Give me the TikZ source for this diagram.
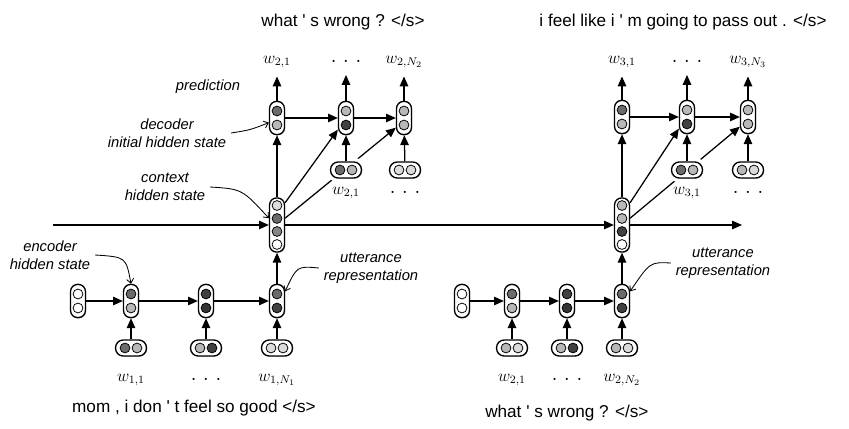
\documentclass[tikz,border=0pt]{standalone}
\usepackage[no-math]{fontspec}
\setmainfont{Liberation Sans}
\usepackage{tikz}
\usetikzlibrary{arrows.meta,shadows,calc}
\definecolor{dkgray}{gray}{0.25}
\definecolor{mdgray}{gray}{0.42}
\definecolor{ltgray}{gray}{0.72}
\definecolor{pale}{gray}{0.86}
\tikzset{
    unit/.style={
    circle,draw=black,line width=0.55pt,minimum size=7pt,inner sep=0pt
    },
    vpill/.style={
    rectangle,rounded corners=5pt,draw=black,fill=white,line width=0.95pt,
    minimum width=10.6pt,minimum height=23.6pt,inner sep=0pt,
    drop shadow={shadow xshift=0.6pt,shadow yshift=-0.6pt,opacity=0.3}
    },
    hpill/.style={
    rectangle,rounded corners=5.5pt,draw=black,fill=white,line width=0.95pt,
    minimum width=22pt,minimum height=11.4pt,inner sep=0pt,
    drop shadow={shadow xshift=0.6pt,shadow yshift=-0.6pt,opacity=0.3}
    },
    cpill/.style={
    rectangle,rounded corners=5pt,draw=black,fill=white,line width=0.95pt,
    minimum width=10.6pt,minimum height=38.5pt,inner sep=0pt,
    drop shadow={shadow xshift=0.6pt,shadow yshift=-0.6pt,opacity=0.3}
    },
    halo/.style={
    preaction={draw=white,line width=6pt}
    },
    arr/.style={
    -{Triangle[length=7pt,width=6pt]},line width=0.9pt
    },
    note/.style={
    -{Straight Barb[length=3pt,width=5pt]},line width=0.6pt
    },
    lbl/.style={
    font=\fontsize{10.5}{12.8}\selectfont\itshape,align=center
    },
    sent/.style={
    font=\fontsize{12.2}{14}\selectfont
    },
    wlab/.style={
    font=\fontsize{12}{14}\selectfont,inner sep=1pt,outer sep=5pt
    },
    dots/.style={
    font=\fontsize{15}{16}\selectfont,inner sep=1pt
    },
}
\newcommand{\q}{\textquotesingle}
\newcommand{\dts}{${\cdot}\,\,{\cdot}\,\,{\cdot}$}
% cells: vertical pair, horizontal pair, column of four
\newcommand{\vcell}[5]{%
  \node[vpill] (#1) at (#2,#3) {};
  \node[unit,fill=#4] at (#2,#3-7) {};
  \node[unit,fill=#5] at (#2,#3+7) {};
}
\newcommand{\hcell}[6][]{%
  \node[#1,hpill] (#2) at (#3,#4) {};
  \node[unit,fill=#5] at (#3-6,#4) {};
  \node[unit,fill=#6] at (#3+6,#4) {};
}
\newcommand{\ccell}[7]{%
  \node[cpill] (#1) at (#2,#3) {};
  \node[unit,fill=#4] at (#2,#3-19.5) {};
  \node[unit,fill=#5] at (#2,#3-6.5) {};
  \node[unit,fill=#6] at (#2,#3+6.5) {};
  \node[unit,fill=#7] at (#2,#3+19.5) {};
}

\begin{document}
\begin{tikzpicture}[x=0.025cm,y=-0.025cm]
   \useasboundingbox (0,0) rectangle (849,428);

   % first utterance, encoder
   \vcell{e10}{78}{301}{white}{white}
   \vcell{e11}{131}{301}{mdgray}{ltgray}
   \vcell{e12}{206}{301}{dkgray}{black!80}
   \vcell{e13}{277}{301}{mdgray}{dkgray}
   \hcell{i11}{131}{348}{mdgray}{ltgray}
   \hcell{i12}{206}{348}{ltgray}{dkgray}
   \hcell{i13}{277}{348}{pale}{pale}
   \node[wlab] (w11) at (131,380) {$w_{1,1}$};
   \node[dots] (w12) at (206,380) {\dts};
   \node[wlab] (w13) at (277,380) {$w_{1,N_1}$};

   % second utterance, encoder
   \vcell{e20}{462}{301}{white}{white}
   \vcell{e21}{512}{301}{mdgray}{ltgray}
   \vcell{e22}{567}{301}{dkgray}{black!80}
   \vcell{e23}{622}{301}{mdgray}{dkgray}
   \hcell{i21}{512}{348}{ltgray}{pale}
   \hcell{i22}{567}{348}{ltgray}{dkgray}
   \hcell{i23}{622}{348}{ltgray}{pale}
   \node[wlab] (w21) at (512,380) {$w_{2,1}$};
   \node[dots] (w22) at (567,380) {\dts};
   \node[wlab] (w23) at (622,380) {$w_{2,N_2}$};

   % context states
   \ccell{c1}{277}{225}{pale}{mdgray}{black!48}{white}
   \ccell{c2}{622}{225}{ltgray}{ltgray}{dkgray}{white}
   \coordinate (start) at (53,225);
   \coordinate (end) at (742,225);

   % decoders
   \vcell{d11}{277}{118}{mdgray}{ltgray}
   \vcell{d12}{346}{118}{ltgray}{dkgray}
   \vcell{d13}{404}{118}{ltgray}{ltgray}
   \vcell{d21}{622}{117}{mdgray}{ltgray}
   \vcell{d22}{687}{117}{ltgray}{dkgray}
   \vcell{d23}{748}{117}{ltgray}{ltgray}

   \draw[arr] (c1.40) -- (d13.230);
   \draw[arr] (c2.40) -- (d23.230);

   \hcell[halo]{j12}{346}{170}{mdgray}{ltgray}
   \hcell{j13}{405}{170}{pale}{pale}
   \hcell[halo]{j22}{687}{170}{mdgray}{ltgray}
   \hcell{j23}{748}{170}{ltgray}{pale}
   \node[wlab] (v12) at (346,193) {$w_{2,1}$};
   \node[dots] (v13) at (405,193) {\dts};
   \node[wlab] (v22) at (687,193) {$w_{3,1}$};
   \node[dots] (v23) at (748,193) {\dts};

   \node[wlab] (o11) at (277,62) {$w_{2,1}$};
   \node[dots,outer sep=5pt] (o12) at (346,62) {\dts};
   \node[wlab] (o13) at (404,62) {$w_{2,N_2}$};
   \node[wlab] (o21) at (622,62) {$w_{3,1}$};
   \node[dots,outer sep=5pt] (o22) at (687,62) {\dts};
   \node[wlab] (o23) at (748,62) {$w_{3,N_3}$};

   % sentences
   \node[sent] (s1) at (343,22) {what \q{} s wrong ? </s>};
   \node[sent] (s2) at (683,22) {i feel like i \q{} m going to pass out . </s>};
   \node[sent] (s0) at (194,408) {mom , i don \q{} t feel so good </s>};
   \node[sent,anchor=west,inner sep=0pt] (s3) at (485,413) {what \q{} s wrong ? </s>};

   % annotations
   \node[lbl] (lPred) at (208,87) {prediction};
   \node[lbl] (lDec) at (167,133) {decoder\\initial hidden state};
   \node[lbl] (lCtx) at (165,187) {context\\hidden state};
   \node[lbl] (lEnc) at (50,255) {encoder\\hidden state};
   \node[lbl] (lUtt) at (371,268) {utterance\\representation};
   \node[lbl] (lUtt2) at (723,263) {utterance\\representation};

  \path[arr]
    (e10) edge (e11)
    (e11) edge (e12)
    (e12) edge (e13)
    (i11) edge (e11)
    (i12) edge (e12)
    (i13) edge (e13)
    (e20) edge (e21)
    (e21) edge (e22)
    (e22) edge (e23)
    (i21) edge (e21)
    (i22) edge (e22)
    (i23) edge (e23)
    (e13) edge (c1)
    (e23) edge (c2)
    (start) edge (c1)
    (c1) edge (c2)
    (c2) edge (end)
    (c1) edge (d11)
    (c2) edge (d21)
    (c1.70) edge (d12.235)
    (c2.70) edge (d22.235)
    (d11) edge (d12)
    (d12) edge (d13)
    (d21) edge (d22)
    (d22) edge (d23)
    (j12) edge (d12)
    (j13) edge (d13)
    (j22) edge (d22)
    (j23) edge (d23)
    (d11) edge (o11)
    (d12) edge (o12)
    (d13) edge (o13)
    (d21) edge (o21)
    (d22) edge (o22)
    (d23) edge (o23);

  \draw[note] (lEnc.east) .. controls (126,257) .. (e11.north);
  \draw[note] (lCtx.east) .. controls (242,189) .. (c1.140);
  \draw[note] (lDec.east) .. controls (250,130) .. (d11.210);
  \draw[note] (lUtt.west) .. controls (297,266) .. (e13.50);
  \draw[note] (lUtt2.west) .. controls (650,262) .. (e23.50);
\end{tikzpicture}
\end{document}
